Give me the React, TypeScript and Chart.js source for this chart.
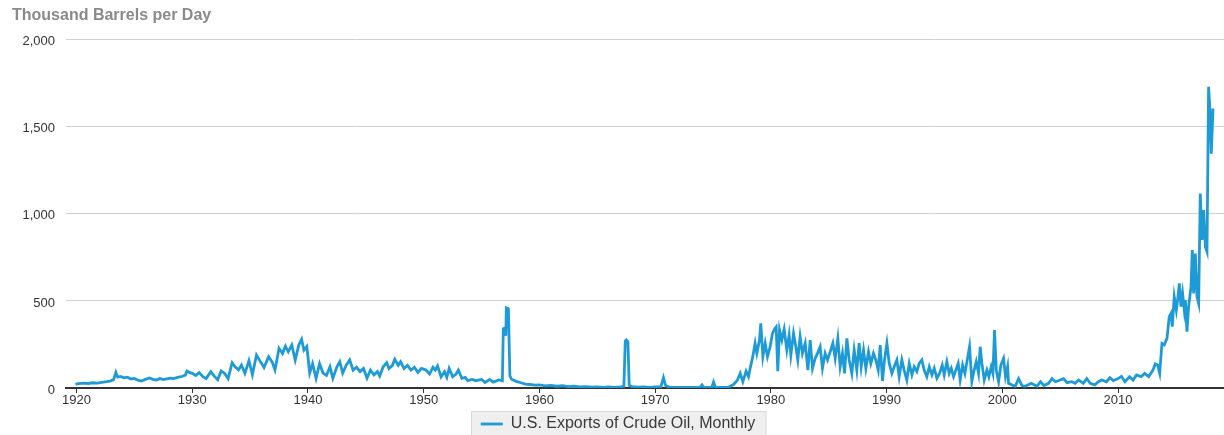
import { useEffect, useRef } from 'react';
import { Chart, registerables } from 'chart.js';

Chart.register(...registerables);

const FONT = "'Liberation Sans', Arial, Helvetica, sans-serif";
const LINE_COLOR = '#1e9bd7';
const TITLE_TEXT = 'Thousand Barrels per Day';
const SERIES_LABEL = 'U.S. Exports of Crude Oil, Monthly';

const X_MIN = 1919.09;
const X_MAX = 2019.16;
const X_TICKS = [1920, 1930, 1940, 1950, 1960, 1970, 1980, 1990, 2000, 2010];
const Y_TICKS = [0, 500, 1000, 1500, 2000];

// [decimal year, thousand barrels per day]
const era1920: [number, number][] = [
  [1919.9, 22], [1920.2, 25], [1920.6, 28], [1921.0, 26], [1921.4, 30], [1921.8, 28], [1922.2, 32], [1922.6, 36],
  [1922.9, 40], [1923.2, 48], [1923.4, 90], [1923.55, 62], [1923.8, 66], [1924.1, 58], [1924.4, 62], [1924.7, 52],
  [1925.0, 55], [1925.3, 45], [1925.6, 40], [1925.9, 48], [1926.3, 58], [1926.6, 50], [1926.9, 46], [1927.2, 54],
  [1927.5, 48], [1927.8, 52], [1928.1, 56], [1928.4, 54], [1928.8, 62], [1929.1, 66], [1929.4, 74], [1929.55, 98],
  [1929.8, 88], [1930.0, 84], [1930.3, 72], [1930.6, 88], [1930.9, 66], [1931.2, 54], [1931.6, 94], [1931.9, 68],
  [1932.2, 48], [1932.5, 98], [1932.8, 84], [1933.1, 54], [1933.45, 145], [1933.7, 122], [1934.0, 104], [1934.25, 132],
  [1934.55, 84], [1934.9, 157], [1935.2, 76], [1935.55, 189], [1935.9, 150], [1936.2, 118], [1936.6, 180], [1936.9, 150],
  [1937.15, 104], [1937.5, 228], [1937.8, 198], [1938.05, 240], [1938.3, 208], [1938.6, 247], [1938.9, 160], [1939.2, 245],
  [1939.45, 280], [1939.65, 218], [1939.9, 238],
];

const era1940: [number, number][] = [
  [1940.15, 86], [1940.4, 140], [1940.7, 55], [1941.0, 140], [1941.3, 86], [1941.6, 72], [1941.9, 122], [1942.15, 55],
  [1942.5, 122], [1942.75, 151], [1943.0, 86], [1943.3, 130], [1943.6, 161], [1943.9, 103], [1944.2, 119], [1944.5, 94],
  [1944.8, 112], [1945.1, 56], [1945.4, 103], [1945.7, 75], [1946.0, 94], [1946.2, 69], [1946.5, 122], [1946.8, 145],
  [1947.0, 112], [1947.3, 130], [1947.5, 165], [1947.8, 130], [1948.0, 151], [1948.3, 112], [1948.6, 130], [1948.9, 103],
  [1949.2, 119], [1949.5, 89], [1949.8, 112], [1950.2, 103], [1950.5, 80], [1950.8, 119], [1951.0, 103], [1951.2, 126],
  [1951.5, 64], [1951.8, 94], [1952.0, 61], [1952.2, 112], [1952.5, 64], [1952.8, 80], [1953.0, 103], [1953.3, 56],
  [1953.6, 61], [1953.8, 42], [1954.2, 49], [1954.5, 42], [1955.0, 49], [1955.3, 32], [1955.7, 49], [1956.0, 34],
  [1956.5, 46], [1956.8, 42],
];

const era1957: [number, number][] = [
  [1956.88, 340], [1957.02, 345], [1957.1, 300], [1957.14, 460], [1957.32, 455], [1957.45, 70], [1957.6, 50], [1958.0, 38],
  [1958.4, 30], [1958.8, 22], [1959.2, 20], [1959.6, 16], [1960.0, 18], [1960.5, 12], [1961.0, 15], [1961.5, 10],
  [1962.0, 13], [1962.5, 8], [1963.0, 10], [1963.5, 6], [1964.0, 8], [1964.5, 5], [1965.0, 7], [1965.5, 4],
  [1966.0, 6], [1966.5, 4], [1967.0, 6], [1967.3, 10], [1967.42, 270], [1967.5, 276], [1967.65, 265], [1967.76, 15],
  [1968.0, 8], [1968.5, 5], [1969.0, 7], [1969.5, 4], [1970.0, 6], [1970.5, 8], [1970.72, 60], [1970.9, 14],
  [1971.2, 5], [1971.8, 3], [1972.5, 4], [1973.2, 3], [1973.9, 5], [1974.05, 18], [1974.2, 4], [1974.9, 5],
  [1975.05, 35], [1975.2, 5], [1975.8, 4], [1976.3, 3], [1976.77, 20], [1977.11, 45], [1977.35, 84], [1977.58, 37],
  [1977.86, 96], [1978.07, 65], [1978.21, 113], [1978.44, 180],
];

const era1978: [number, number][] = [
  [1978.64, 257], [1978.79, 199], [1979.02, 275], [1979.13, 371], [1979.31, 180], [1979.51, 257], [1979.71, 180], [1979.94, 237],
  [1980.14, 314], [1980.31, 337], [1980.46, 350], [1980.6, 96], [1980.75, 333], [1980.95, 275], [1981.15, 337], [1981.38, 218],
  [1981.58, 304], [1981.73, 189], [1981.96, 314], [1982.16, 237], [1982.33, 161], [1982.53, 294], [1982.73, 199], [1982.97, 257],
  [1983.2, 103], [1983.4, 275], [1983.6, 113], [1983.83, 170], [1984.03, 199], [1984.26, 237], [1984.46, 113], [1984.69, 199],
  [1984.9, 161], [1985.13, 208], [1985.36, 257], [1985.56, 170], [1985.79, 285], [1985.99, 122], [1986.19, 199], [1986.37, 84],
  [1986.57, 285], [1986.77, 161], [1987.0, 84], [1987.2, 218], [1987.43, 103], [1987.63, 257], [1987.81, 122], [1988.01, 218],
  [1988.21, 113], [1988.44, 208], [1988.64, 141], [1988.87, 199], [1989.07, 161], [1989.28, 103], [1989.45, 247], [1989.65, 40],
  [1989.82, 161], [1990.03, 257], [1990.23, 141], [1990.46, 84], [1990.66, 122], [1990.89, 161], [1991.09, 65], [1991.32, 161],
  [1991.52, 103], [1991.75, 46], [1991.96, 141], [1992.19, 75], [1992.39, 122], [1992.62, 94], [1992.82, 141], [1993.05, 161],
  [1993.25, 103], [1993.48, 65], [1993.69, 122], [1993.92, 75], [1994.12, 113], [1994.35, 56],
];

const era1994: [number, number][] = [
  [1994.58, 84], [1994.81, 132], [1994.98, 75], [1995.21, 151], [1995.41, 84], [1995.59, 113], [1995.79, 65], [1995.99, 103],
  [1996.19, 141], [1996.36, 46], [1996.57, 132], [1996.77, 84], [1996.97, 161], [1997.17, 237], [1997.37, 36], [1997.57, 103],
  [1997.75, 151], [1997.95, 84], [1998.09, 237], [1998.24, 141], [1998.44, 46], [1998.67, 103], [1998.84, 65], [1999.04, 122],
  [1999.19, 84], [1999.33, 333], [1999.48, 103], [1999.68, 36], [1999.88, 132], [2000.11, 170], [2000.28, 65], [2000.46, 122],
  [2000.54, 27], [2000.83, 18], [2001.12, 10], [2001.41, 54], [2001.7, 14], [2001.98, 10], [2002.5, 27], [2003.0, 10],
  [2003.3, 36], [2003.6, 14], [2004.0, 27], [2004.3, 54], [2004.6, 36], [2005.0, 46], [2005.3, 54], [2005.6, 31],
  [2006.0, 36], [2006.3, 27], [2006.6, 46], [2007.0, 27], [2007.3, 54], [2007.6, 27], [2008.0, 18], [2008.3, 36],
  [2008.6, 46], [2009.0, 36], [2009.3, 59], [2009.6, 42], [2010.0, 54], [2010.3, 67], [2010.6, 36], [2011.0, 65],
  [2011.3, 46], [2011.6, 75], [2012.0, 65], [2012.3, 84], [2012.65, 65],
];

const era2013: [number, number][] = [
  [2013.02, 103], [2013.22, 138], [2013.42, 132], [2013.6, 84], [2013.8, 256], [2014.0, 247], [2014.23, 285], [2014.43, 409],
  [2014.58, 428], [2014.69, 352], [2014.86, 524], [2015.04, 447], [2015.15, 505], [2015.3, 601], [2015.44, 467], [2015.58, 543],
  [2015.73, 447], [2015.82, 505], [2015.96, 323], [2016.1, 467], [2016.31, 582], [2016.42, 792], [2016.54, 543], [2016.68, 772],
  [2016.83, 524], [2016.97, 486], [2017.11, 1117], [2017.26, 850], [2017.4, 1022], [2017.55, 811], [2017.69, 783], [2017.83, 1730],
  [2017.98, 1557], [2018.06, 1346], [2018.21, 1605],
];

const LEGEND_FONT_SIZE = 16;
const LEGEND_PADDING = 4;
const LEGEND_LINE_WIDTH = 22;

const legendBoxPlugin = {
  id: 'legendBox',
  beforeDraw(chart: any) {
    const lg = chart.legend;
    if (!lg) return;
    const ctx = chart.ctx as CanvasRenderingContext2D;
    ctx.save();
    ctx.font = `${LEGEND_FONT_SIZE}px ${FONT}`;
    const tw = ctx.measureText(SERIES_LABEL).width;
    const itemW = LEGEND_LINE_WIDTH + LEGEND_FONT_SIZE / 2 + tw;
    const cx = (lg.left + lg.right) / 2;
    const x0 = Math.round(cx - itemW / 2 - 10) + 0.5;
    const textY = lg.top + LEGEND_PADDING + LEGEND_FONT_SIZE / 2;
    const y0 = Math.round(textY - 13.5) + 0.5;
    ctx.fillStyle = '#efefef';
    ctx.fillRect(x0, y0, itemW + 20, 60);
    ctx.strokeStyle = '#d9d9d9';
    ctx.lineWidth = 1;
    ctx.strokeRect(x0, y0, itemW + 20, 60);
    ctx.restore();
  },
};

export default function App() {
  const ref = useRef<HTMLCanvasElement>(null);

  useEffect(() => {
    const points = [...era1920, ...era1940, ...era1957, ...era1978, ...era1994, ...era2013].map(([x, y]) => ({ x, y }));
    const chart = new Chart(ref.current!, {
      type: 'line',
      data: {
        datasets: [
          {
            label: SERIES_LABEL,
            data: points,
            borderColor: LINE_COLOR,
            backgroundColor: LINE_COLOR,
            borderWidth: 2.8,
            pointRadius: 0,
            tension: 0,
            fill: false,
          },
        ],
      },
      options: {
        animation: false,
        responsive: false,
        devicePixelRatio: 1,
        layout: { padding: { left: 12, right: 0, top: 0, bottom: -7 } },
        plugins: {
          title: {
            display: true,
            text: TITLE_TEXT,
            align: 'start',
            color: '#8a8a8a',
            font: { family: FONT, size: 16, weight: 'bold' },
            padding: { top: 5.5, bottom: 15 },
          },
          legend: {
            display: true,
            position: 'bottom',
            labels: {
              usePointStyle: true,
              pointStyle: 'line',
              pointStyleWidth: LEGEND_LINE_WIDTH,
              color: '#3a3a3a',
              font: { family: FONT, size: LEGEND_FONT_SIZE },
              padding: LEGEND_PADDING,
            },
          },
          tooltip: { enabled: false },
        },
        scales: {
          x: {
            type: 'linear',
            min: X_MIN,
            max: X_MAX,
            afterBuildTicks: (s: any) => {
              s.ticks = X_TICKS.map((v) => ({ value: v }));
            },
            afterFit: (s: any) => {
              s.height = 24;
            },
            ticks: {
              callback: (v: any) => String(v),
              color: '#333',
              font: { family: FONT, size: 13 },
              padding: 0,
              maxRotation: 0,
              autoSkip: false,
            },
            grid: { drawOnChartArea: false, drawTicks: true, tickLength: 5, color: '#333', tickColor: '#333' },
            border: { display: true, color: '#333', width: 2 },
          },
          y: {
            min: 0,
            max: 2000,
            afterBuildTicks: (s: any) => {
              s.ticks = Y_TICKS.map((v) => ({ value: v }));
            },
            afterFit: (s: any) => {
              s.width = 54;
            },
            ticks: {
              callback: (v: any) => Number(v).toLocaleString('en-US'),
              color: '#333',
              font: { family: FONT, size: 13 },
              padding: 11,
              labelOffset: 2,
            },
            grid: {
              color: (c: any) => (c.tick && c.tick.value === 0 ? 'rgba(0,0,0,0)' : '#d0d0d0'),
              lineWidth: 1,
              drawTicks: false,
            },
            border: { display: false },
          },
        },
      },
      plugins: [legendBoxPlugin],
    } as any);
    return () => chart.destroy();
  }, []);

  return (
    <div style={{ position: 'absolute', left: 0, top: 0, width: 1224, height: 435, background: '#fff' }}>
      <canvas ref={ref} width={1224} height={435} style={{ display: 'block' }} />
    </div>
  );
}
